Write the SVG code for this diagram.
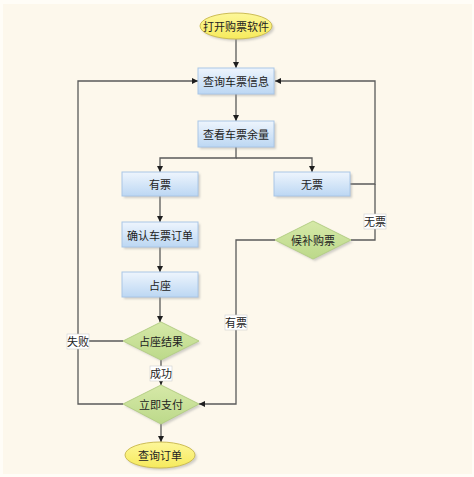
<svg xmlns="http://www.w3.org/2000/svg" width="474" height="477" viewBox="0 0 474 477">
<style>
  .t{font-family:"Noto Sans CJK SC","Noto Sans",sans-serif;font-size:11px;fill:#222;text-anchor:middle;dominant-baseline:central}
  .box{fill:url(#gBlue);stroke:#a9c6e6;stroke-width:1}
  .dia{fill:url(#gGreen);stroke:#b5cf86;stroke-width:1}
  .ell{fill:url(#gYel);stroke:#cdbd55;stroke-width:1}
  .c{fill:none;stroke:#5a5a5a;stroke-width:1.3}
  .lbl{fill:#ffffff;stroke:#cfcfcf;stroke-width:0.6}
  .sh{fill:#9a9a9a;opacity:0.45}
</style>
<defs>
  <linearGradient id="gBlue" x1="0" y1="0" x2="0" y2="1">
    <stop offset="0" stop-color="#eef5fd"/>
    <stop offset="1" stop-color="#bcd7f3"/>
  </linearGradient>
  <linearGradient id="gGreen" x1="0" y1="0" x2="0" y2="1">
    <stop offset="0" stop-color="#d6e9a8"/>
    <stop offset="1" stop-color="#bcd98a"/>
  </linearGradient>
  <linearGradient id="gYel" x1="0" y1="0" x2="0" y2="1">
    <stop offset="0" stop-color="#fdf79a"/>
    <stop offset="1" stop-color="#f6ea5c"/>
  </linearGradient>
  <marker id="arr" viewBox="0 0 10 10" refX="10" refY="5" markerWidth="6" markerHeight="6" orient="auto" markerUnits="userSpaceOnUse">
    <path d="M0,0 L10,5 L0,10 z" fill="#1e1e1e"/>
  </marker>
  <filter id="blur" x="-20%" y="-20%" width="140%" height="140%"><feGaussianBlur stdDeviation="1.2"/></filter>
</defs>
<rect x="0" y="0" width="474" height="477" fill="#fffdf7"/>
<rect x="3" y="4" width="469" height="470" fill="#fdf8ec"/>

<g id="connectors">
  <path class="c" d="M236,39 V68" marker-end="url(#arr)"/>
  <path class="c" d="M236,94 V121" marker-end="url(#arr)"/>
  <path class="c" d="M236,147 V158 H160 V172" marker-end="url(#arr)"/>
  <path class="c" d="M236,158 H312 V172" marker-end="url(#arr)"/>
  <path class="c" d="M160,196 V222" marker-end="url(#arr)"/>
  <path class="c" d="M160,247 V272" marker-end="url(#arr)"/>
  <path class="c" d="M160,297 V322" marker-end="url(#arr)"/>
  <path class="c" d="M161,360 V385" marker-end="url(#arr)"/>
  <path class="c" d="M161,424 V442" marker-end="url(#arr)"/>
  <path class="c" d="M123,341 H78 V81 H198" marker-end="url(#arr)"/>
  <path class="c" d="M123,404 H78 V341"/>
  <path class="c" d="M350,184 H375 V81 H275" marker-end="url(#arr)"/>
  <path class="c" d="M351,240 H375 V184"/>
  <path class="c" d="M275,240 H236 V404 H199" marker-end="url(#arr)"/>
  <g id="lbl-fail"><rect class="lbl" x="67" y="334" width="22" height="15"/><text class="t" x="78" y="341">失败</text></g>
  <g id="lbl-ok"><rect class="lbl" x="150" y="366" width="22" height="15"/><text class="t" x="161" y="373">成功</text></g>
  <g id="lbl-none"><rect class="lbl" x="364" y="214" width="22" height="15"/><text class="t" x="375" y="221">无票</text></g>
  <g id="lbl-have"><rect class="lbl" x="225" y="315" width="22" height="15"/><text class="t" x="236" y="322">有票</text></g>
</g>

<g id="start">
  <ellipse class="sh" cx="238" cy="28" rx="36" ry="13" filter="url(#blur)"/>
  <ellipse class="ell" cx="236" cy="26" rx="36" ry="13"/>
  <text class="t" x="236" y="26">打开购票软件</text>
</g>
<g id="query">
  <rect class="sh" x="200" y="70" width="76" height="26" filter="url(#blur)"/>
  <rect class="box" x="198" y="68" width="76" height="26"/>
  <text class="t" x="236" y="81">查询车票信息</text>
</g>
<g id="check">
  <rect class="sh" x="200" y="123" width="76" height="26" filter="url(#blur)"/>
  <rect class="box" x="198" y="121" width="76" height="26"/>
  <text class="t" x="236" y="134">查看车票余量</text>
</g>
<g id="have">
  <rect class="sh" x="124" y="174" width="76" height="24" filter="url(#blur)"/>
  <rect class="box" x="122" y="172" width="76" height="24"/>
  <text class="t" x="160" y="184">有票</text>
</g>
<g id="none">
  <rect class="sh" x="276" y="174" width="76" height="24" filter="url(#blur)"/>
  <rect class="box" x="274" y="172" width="76" height="24"/>
  <text class="t" x="312" y="184">无票</text>
</g>
<g id="confirm">
  <rect class="sh" x="124" y="224" width="76" height="25" filter="url(#blur)"/>
  <rect class="box" x="122" y="222" width="76" height="25"/>
  <text class="t" x="160" y="235">确认车票订单</text>
</g>
<g id="seat">
  <rect class="sh" x="124" y="274" width="76" height="25" filter="url(#blur)"/>
  <rect class="box" x="122" y="272" width="76" height="25"/>
  <text class="t" x="160" y="285">占座</text>
</g>
<g id="wait">
  <polygon class="sh" points="315,223 353,242 315,261 277,242" filter="url(#blur)"/>
  <polygon class="dia" points="313,221 351,240 313,259 275,240"/>
  <text class="t" x="313" y="240">候补购票</text>
</g>
<g id="result">
  <polygon class="sh" points="163,324 201,343 163,362 125,343" filter="url(#blur)"/>
  <polygon class="dia" points="161,322 199,341 161,360 123,341"/>
  <text class="t" x="161" y="341">占座结果</text>
</g>
<g id="pay">
  <polygon class="sh" points="163,387 201,406 163,426 125,406" filter="url(#blur)"/>
  <polygon class="dia" points="161,385 199,404 161,424 123,404"/>
  <text class="t" x="161" y="404">立即支付</text>
</g>
<g id="order">
  <ellipse class="sh" cx="162" cy="457" rx="35" ry="13" filter="url(#blur)"/>
  <ellipse class="ell" cx="160" cy="455" rx="35" ry="13"/>
  <text class="t" x="160" y="455">查询订单</text>
</g>
</svg>
